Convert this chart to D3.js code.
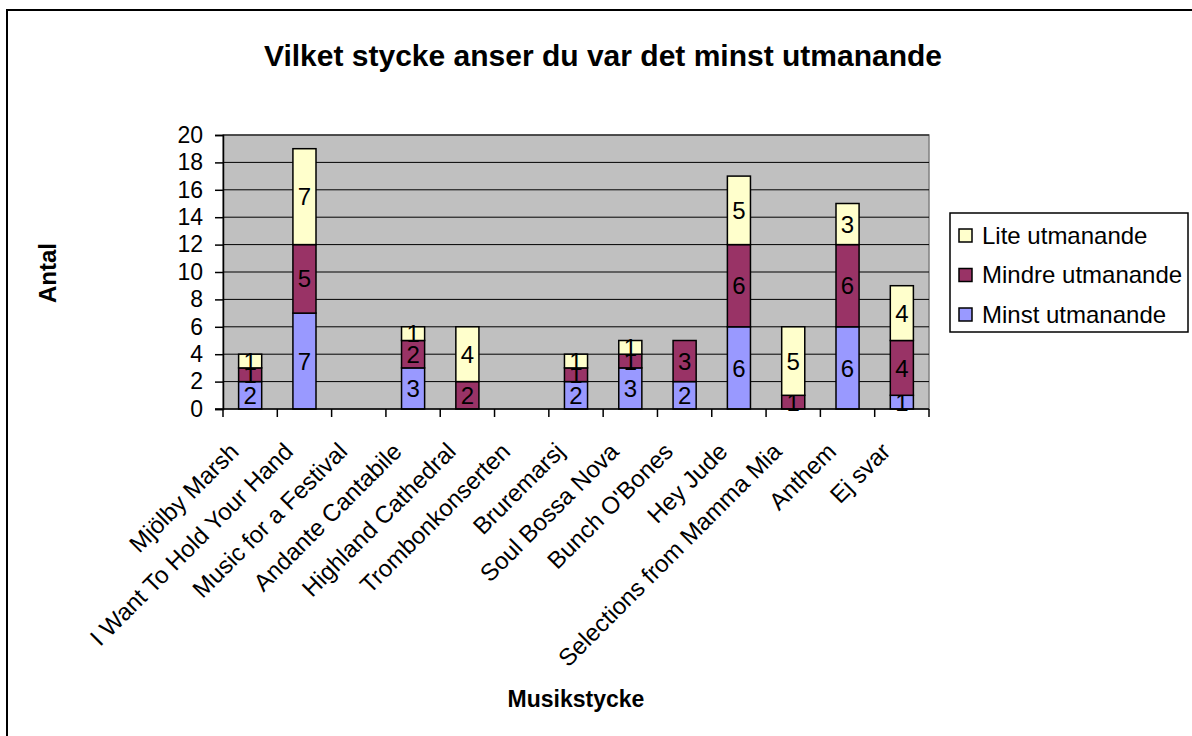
<!DOCTYPE html>
<html>
<head>
<meta charset="utf-8">
<script src="https://cdn.jsdelivr.net/npm/d3@7"></script>
<style>
  body { margin: 0; background: #fff; }
  text { font-family: "Liberation Sans", Arial, sans-serif; }
</style>
</head>
<body>
<div id="chart"></div>
<script>
// data
var categories = ['Mjölby Marsh', 'I Want To Hold Your Hand', 'Music for a Festival',
  'Andante Cantabile', 'Highland Cathedral', 'Trombonkonserten', 'Bruremarsj',
  'Soul Bossa Nova', "Bunch O'Bones", 'Hey Jude', 'Selections from Mamma Mia',
  'Anthem', 'Ej svar'];
var minst  = [2, 7, 0, 3, 0, 0, 2, 3, 2, 6, 0, 6, 1];
var mindre = [1, 5, 0, 2, 2, 0, 1, 1, 3, 6, 1, 6, 4];
var lite   = [1, 7, 0, 1, 4, 0, 1, 1, 0, 5, 5, 3, 4];
var seriesNames = ['Minst utmanande', 'Mindre utmanande', 'Lite utmanande'];
var seriesColors = ['#9999FF', '#993366', '#FFFFCC'];
var yTicks = [0, 2, 4, 6, 8, 10, 12, 14, 16, 18, 20];

const width = 1192;
const height = 736;

var svg = d3.select('#chart')
  .append('svg')
  .attr('width', width)
  .attr('height', height);

// chart area border
svg.append('rect')
  .attr('x', 7).attr('y', 10)
  .attr('width', 1250).attr('height', 800)
  .style('fill', 'white')
  .style('stroke', 'black')
  .style('stroke-width', 2);

var plot = { left: 223, right: 929, top: 135, bottom: 409 };

var x = d3.scaleBand()
  .domain(categories)
  .range([plot.left, plot.right])
  .paddingInner(0.575)
  .paddingOuter(0.2875);

var y = d3.scaleLinear()
  .domain([0, 20])
  .range([plot.bottom, plot.top]);

// plot background
svg.append('rect')
  .attr('x', plot.left).attr('y', plot.top)
  .attr('width', plot.right - plot.left)
  .attr('height', plot.bottom - plot.top)
  .style('fill', '#C0C0C0')
  .style('stroke', '#808080')
  .style('stroke-width', 1.5);

// gridlines
svg.append('g')
  .selectAll('line')
  .data(yTicks.slice(1))
  .enter().append('line')
  .attr('x1', plot.left).attr('x2', plot.right)
  .attr('y1', d => y(d)).attr('y2', d => y(d))
  .style('stroke', 'black')
  .style('stroke-width', 1);

// stacked data
var rows = categories.map(function(c, i) {
  return { cat: c, 'Minst utmanande': minst[i], 'Mindre utmanande': mindre[i], 'Lite utmanande': lite[i] };
});
var stack = d3.stack().keys(seriesNames)(rows);

var layers = svg.append('g')
  .selectAll('g')
  .data(stack)
  .enter().append('g')
  .style('fill', (d, i) => seriesColors[i]);

layers.selectAll('rect')
  .data(d => d.filter(s => s[1] - s[0] > 0))
  .enter().append('rect')
  .attr('x', d => x(d.data.cat))
  .attr('width', x.bandwidth())
  .attr('y', d => y(d[1]))
  .attr('height', d => y(d[0]) - y(d[1]))
  .style('stroke', 'black')
  .style('stroke-width', 1.5);

// value labels
layers.selectAll('text')
  .data(d => d.filter(s => s[1] - s[0] > 0))
  .enter().append('text')
  .attr('x', d => x(d.data.cat) + x.bandwidth() / 2)
  .attr('y', d => (y(d[0]) + y(d[1])) / 2)
  .attr('dy', '0.36em')
  .style('text-anchor', 'middle')
  .style('font-size', '24px')
  .style('fill', 'black')
  .text(d => d[1] - d[0]);

// y axis
var yAxis = svg.append('g')
  .attr('transform', 'translate(' + plot.left + ',0)')
  .call(d3.axisLeft(y).tickValues(yTicks).tickSize(8).tickPadding(12));
yAxis.select('.domain').style('stroke', 'black').style('stroke-width', 1.5);
yAxis.selectAll('.tick line').style('stroke', 'black').style('stroke-width', 1.5);
yAxis.selectAll('.tick text')
  .style('font-size', '23px')
  .style('font-family', '"Liberation Sans", Arial, sans-serif')
  .style('fill', 'black');

// x axis line and ticks at band boundaries
svg.append('line')
  .attr('x1', plot.left - 8).attr('x2', plot.right)
  .attr('y1', plot.bottom).attr('y2', plot.bottom)
  .style('stroke', 'black').style('stroke-width', 1.5);
svg.append('g')
  .selectAll('line')
  .data(d3.range(categories.length + 1))
  .enter().append('line')
  .attr('x1', i => plot.left + i * x.step())
  .attr('x2', i => plot.left + i * x.step())
  .attr('y1', plot.bottom).attr('y2', plot.bottom + 8)
  .style('stroke', 'black').style('stroke-width', 1.5);

// category labels
svg.append('g')
  .selectAll('text')
  .data(categories)
  .enter().append('text')
  .attr('transform', d => 'translate(' + (x(d) + x.bandwidth() / 2 - 10) + ',' + 453 + ') rotate(-45)')
  .style('text-anchor', 'end')
  .style('font-size', '24px')
  .style('fill', 'black')
  .text(d => d);

// title
svg.append('text')
  .attr('x', 603).attr('y', 66)
  .style('text-anchor', 'middle')
  .style('font-size', '30px')
  .style('font-weight', 'bold')
  .text('Vilket stycke anser du var det minst utmanande');

// axis titles
svg.append('text')
  .attr('x', 576).attr('y', 707)
  .style('text-anchor', 'middle')
  .style('font-size', '23px')
  .style('font-weight', 'bold')
  .text('Musikstycke');

svg.append('text')
  .attr('transform', 'translate(56,273) rotate(-90)')
  .style('text-anchor', 'middle')
  .style('font-size', '24px')
  .style('font-weight', 'bold')
  .text('Antal');

// legend
var legend = svg.append('g');
legend.append('rect')
  .attr('x', 950).attr('y', 213)
  .attr('width', 238).attr('height', 119)
  .style('fill', 'white')
  .style('stroke', 'black')
  .style('stroke-width', 1.5);

var legendOrder = [2, 1, 0];
var items = legend.selectAll('g.item')
  .data(legendOrder)
  .enter().append('g')
  .attr('class', 'item')
  .attr('transform', (d, i) => 'translate(959,' + (235 + i * 39.5) + ')');

items.append('rect')
  .attr('x', 0).attr('y', -6)
  .attr('width', 13).attr('height', 13)
  .style('fill', d => seriesColors[d])
  .style('stroke', 'black')
  .style('stroke-width', 1.5);

items.append('text')
  .attr('x', 23).attr('y', 0)
  .attr('dy', '0.36em')
  .style('font-size', '24px')
  .text(d => seriesNames[d]);
</script>
</body>
</html>
